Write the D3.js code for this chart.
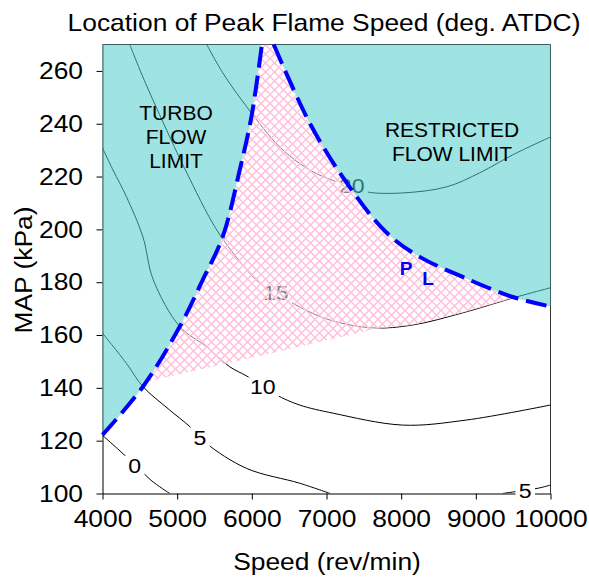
<!DOCTYPE html>
<html>
<head>
<meta charset="utf-8">
<script src="https://cdn.jsdelivr.net/npm/d3@7"></script>
<style>
  body { margin: 0; background: #fff; }
  text { font-family: Arial, "Liberation Sans", sans-serif; }
</style>
</head>
<body>
<svg id="chart" width="589" height="579"></svg>
<script>
// Axis ticks
const speedTicks = [4000, 5000, 6000, 7000, 8000, 9000, 10000];
const mapTicks = [100, 120, 140, 160, 180, 200, 220, 240, 260];

// Contour lines of peak flame speed location, [speed rev/min, MAP kPa]
const contour0 = [[4000, 122], [4200, 117], [4430, 111], [4650, 105], [4900, 100]];
const contour5 = [[4000, 160.7], [4320, 149.3], [4540, 140.5], [4900, 131.6], [5170, 125.3],
  [5390, 119], [5930, 109.5], [6640, 103.9], [7050, 100]];
const contour5b = [[9360, 100], [9600, 101], [9850, 102.1], [10000, 103.2]];
const contour10 = [[4000, 230.8], [4140, 222.5], [4320, 212.4], [4540, 197.3], [4680, 180.9],
  [5035, 163.2], [5392, 155.6], [5703, 148], [5930, 144.5], [6150, 140.5], [6330, 137.3],
  [6640, 133.5], [7090, 130.4], [8020, 125.9], [8870, 127.8], [10000, 133.5]];
const contour15 = [[4365, 270], [4539, 257.8], [4901, 235], [5129, 221.4], [5530, 199.8],
  [5932, 184.7], [6106, 179.7], [6321, 176], [6641, 170.6], [7043, 165.7], [7619, 162.7],
  [8154, 163.8], [8824, 168.4], [9493, 174], [10000, 177.9]];
const contour20 = [[5396, 270], [5610, 259.3], [5932, 246.4], [6374, 231.2], [6775, 222.5],
  [7177, 217.6], [7337, 216.4], [7538, 214.2], [8020, 213.8], [8609, 216.1], [9051, 221.4],
  [9493, 228.2], [10000, 235]];
const contours = [contour0, contour5, contour5b, contour10, contour15, contour20];

// Contour value labels
const labelText = ["0", "5", "10", "15", "20", "5"];
const labelSpeed = [4432, 5305, 6146, 6321, 7337, 9662];
const labelMap = [110.8, 121.4, 140.4, 176, 216.5, 101.3];

// Operating limits
const turboLimit = [[4000, 122.2], [4543, 140.5], [5035, 163.2], [5343, 180.9], [5610, 197.2],
  [5838, 222.5], [5995, 242.7], [6135, 270]];
const restrictedLimit = [[6293, 270], [6780, 240], [7271, 217.6], [7806, 198.7], [8248, 189.6],
  [8824, 182], [9493, 174.4], [10000, 170.8]];
// Lower edge of the hatched zone
const hatchEdge = [[4500, 141.7], [6106, 152.1], [7645, 162.3], [8154, 163.8], [8824, 168.4],
  [9546, 174.4], [9800, 176]];

const svg = d3.select("#chart");
const x = d3.scaleLinear().domain([4000, 10000]).range([102.5, 550.5]);
const y = d3.scaleLinear().domain([100, 270]).range([493.5, 44.5]);
const font = "Arial, 'Liberation Sans', sans-serif";
const SX = 1.1; // horizontal stretch of the chart lettering

const defs = svg.append("defs");
defs.append("clipPath").attr("id", "plotClip").append("rect")
  .attr("x", x(4000)).attr("y", y(270)).attr("width", x(10000) - x(4000)).attr("height", y(100) - y(270));

// pink crosshatch over a light white veil
const hatch = defs.append("pattern").attr("id", "hatch").attr("patternUnits", "userSpaceOnUse")
  .attr("width", 9).attr("height", 9);
hatch.append("rect").attr("width", 9).attr("height", 9).attr("fill", "#fff").attr("fill-opacity", 0.5);
hatch.append("path").attr("d", "M4.5,0L9,4.5L4.5,9L0,4.5Z").attr("fill", "none")
  .attr("stroke", "#ffc0da").attr("stroke-width", 1.5);

// cyan fill with a fine texture
const cyan = defs.append("pattern").attr("id", "cyan").attr("patternUnits", "userSpaceOnUse")
  .attr("width", 4).attr("height", 4);
cyan.append("rect").attr("width", 4).attr("height", 4).attr("fill", "rgb(73,205,205)").attr("fill-opacity", 0.55);
cyan.append("rect").attr("x", 0).attr("y", 0).attr("width", 1).attr("height", 1).attr("fill", "#fff").attr("fill-opacity", 0.12);
cyan.append("rect").attr("x", 2).attr("y", 2).attr("width", 1).attr("height", 1).attr("fill", "#fff").attr("fill-opacity", 0.12);

const line = d3.line().x(d => x(d[0])).y(d => y(d[1])).curve(d3.curveCatmullRom);
const lineLin = d3.line().x(d => x(d[0])).y(d => y(d[1]));

// Axes and frame
const xAxis = svg.append("g").attr("transform", `translate(0,${y(100)})`)
  .call(d3.axisBottom(x).tickValues(speedTicks).tickSize(6).tickSizeOuter(0).tickFormat(d3.format("d")));
xAxis.select(".domain").attr("stroke", "#000");
xAxis.selectAll("text").attr("font-size", 24).attr("font-family", font).attr("fill", "#000")
  .attr("x", 0).attr("y", 0).attr("dy", 0).attr("transform", `translate(0,33.5) scale(${SX},1)`);

const yAxis = svg.append("g").attr("transform", `translate(${x(4000)},0)`)
  .call(d3.axisLeft(y).tickValues(mapTicks).tickSize(6).tickSizeOuter(0));
yAxis.select(".domain").attr("stroke", "#000");
yAxis.selectAll("text").attr("font-size", 24).attr("font-family", font).attr("fill", "#000")
  .attr("x", 0).attr("dy", "0.32em").attr("transform", `translate(-19.5,0) scale(${SX},1)`);

svg.append("path").attr("fill", "none").attr("stroke", "#333").attr("stroke-width", 1)
  .attr("d", `M${x(4000)},${y(270)}H${x(10000)}V${y(100)}`);

// Contours
const cg = svg.append("g").attr("clip-path", "url(#plotClip)");
cg.selectAll("path.contour").data(contours).join("path").attr("class", "contour")
  .attr("d", line).attr("fill", "none").attr("stroke", "#000").attr("stroke-width", 1);

const lg = svg.append("g");
labelText.forEach((t, i) => {
  const g = lg.append("g").attr("transform", `translate(${x(labelSpeed[i])},${y(labelMap[i])}) scale(${SX},1)`);
  const txt = g.append("text").attr("text-anchor", "middle").attr("dy", "0.36em")
    .attr("font-size", 21).attr("fill", "#000").text(t);
  const b = txt.node().getBBox();
  g.insert("rect", "text").attr("x", b.x - 3).attr("y", b.y + 2).attr("width", b.width + 6)
    .attr("height", b.height - 4).attr("fill", "#fff");
});

// Hatched zone between the limits
const turboPath = line(turboLimit);
const restrictedPath = line(restrictedLimit);
defs.append("clipPath").attr("id", "between").append("path")
  .attr("d", turboPath + restrictedPath.replace(/^M/, "L") +
    `L${x(10000)},${y(100)}L${x(4000)},${y(100)}Z`);
const pinkPoly = hatchEdge.concat([[10000, 176], [10000, 270], [4000, 270], [4000, 141]]);
svg.append("g").attr("clip-path", "url(#between)").append("path")
  .attr("d", lineLin(pinkPoly) + "Z").attr("fill", "url(#hatch)");

// Flow limit regions
const area = d3.area().x(d => x(d[0])).y0(y(270)).y1(d => y(d[1])).curve(d3.curveCatmullRom);
svg.append("path").attr("d", area(turboLimit)).attr("fill", "url(#cyan)");
svg.append("path").attr("d", area(restrictedLimit)).attr("fill", "url(#cyan)");

// Limit boundaries
[turboLimit, restrictedLimit].forEach(d => {
  svg.append("path").attr("d", line(d)).attr("fill", "none").attr("stroke", "#0000ff")
    .attr("stroke-width", 4).attr("stroke-dasharray", "21 8");
});

// Region labels
const regionText = (lines, cx, y0, dy, size) => {
  lines.forEach((t, i) => svg.append("text").attr("x", cx).attr("y", y0 + i * dy)
    .attr("text-anchor", "middle").attr("font-size", size).attr("fill", "#000").text(t));
};
regionText(["TURBO", "FLOW", "LIMIT"], 176, 120, 24, 21);
regionText(["RESTRICTED", "FLOW LIMIT"], 452, 136.5, 24, 21);

svg.append("text").attr("x", 406).attr("y", 275).attr("text-anchor", "middle")
  .attr("font-size", 19).attr("font-weight", "bold").attr("fill", "#0000ff").text("P");
svg.append("text").attr("x", 428).attr("y", 285).attr("text-anchor", "middle")
  .attr("font-size", 19).attr("font-weight", "bold").attr("fill", "#0000ff").text("L");

// Titles
const stretched = (tx, ty, rot, t) => svg.append("text")
  .attr("transform", `translate(${tx},${ty}) rotate(${rot}) scale(${SX},1)`)
  .attr("text-anchor", "middle").attr("font-size", 24).attr("fill", "#000").text(t);
stretched(324, 30.5, 0, "Location of Peak Flame Speed (deg. ATDC)");
stretched(327, 570, 0, "Speed (rev/min)");
stretched(32, 270, -90, "MAP (kPa)");
</script>
</body>
</html>
